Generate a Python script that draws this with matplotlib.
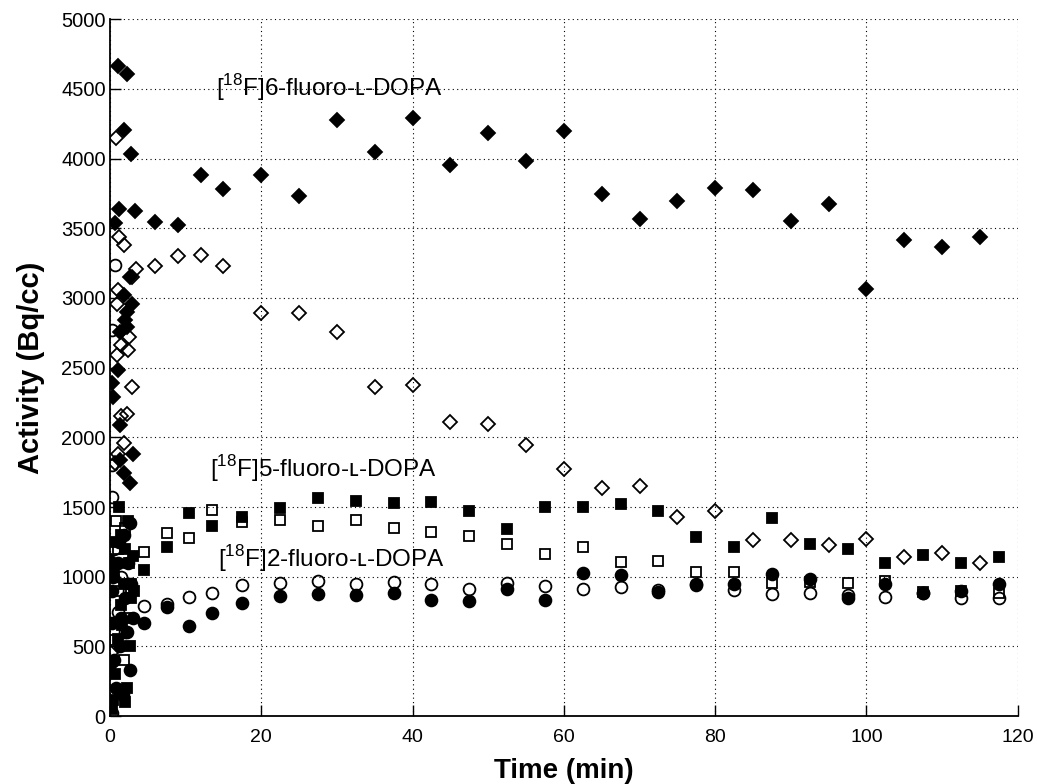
import numpy as np
import matplotlib
matplotlib.use("Agg")
import matplotlib.pyplot as plt

plt.rcParams['font.family'] = ['Liberation Sans', 'DejaVu Sans']
plt.rcParams['mathtext.fontset'] = 'custom'
plt.rcParams['mathtext.rm'] = 'Liberation Sans'

# ── Data ─────────────────────────────────────────────────────────────────────

# [18F]6-fluoro-L-DOPA, filled diamonds
fd_t = [0.15, 0.25, 0.3, 0.4, 0.66, 1.0, 1.1, 1.2, 1.3, 1.3, 1.3, 1.8, 1.8, 1.9,
        2.0, 2.2, 2.2, 2.3, 2.65, 2.65, 2.8, 2.9, 3.0, 3.3,
        6, 9, 12, 15, 20, 25, 30, 35, 40, 45, 50, 55, 60, 65, 70, 75,
        80, 85, 90, 95, 100, 105, 110, 115]
fd_y = [1110, 370, 2387, 2291, 3539, 4663, 2482, 3635, 2757, 2088, 1835, 3020, 1741, 4209,
        2840, 2900, 2793, 4605, 3151, 1669, 4032, 2960, 1880, 3625,
        3546, 3525, 3881, 3780, 3881, 3730, 4275, 4048, 4295, 3953, 4184, 3981, 4197,
        3745, 3565, 3694, 3788, 3773, 3551, 3673, 3063, 3415, 3364, 3436]

# [18F]6-fluoro-L-DOPA, open diamonds
od_t = [0.15, 0.66, 0.75, 0.9, 0.9, 1.0, 1.1, 1.2, 1.5, 1.5, 1.8, 1.8, 2.2, 2.4,
        2.5, 2.9, 2.9, 3.4,
        6, 9, 12, 15, 20, 25, 30, 35, 40, 45, 50, 55, 60, 65, 70, 75,
        80, 85, 90, 95, 100, 105, 110, 115]
od_y = [450, 1813, 4151, 2590, 2960, 1880, 3056, 3438, 2661, 2150, 3379, 1956, 2171, 2626,
        2720, 2362, 3151, 3211,
        3232, 3300, 3310, 3232, 2895, 2895, 2755, 2360, 2372, 2109, 2097, 1946, 1774,
        1636, 1650, 1425, 1468, 1263, 1263, 1224, 1272, 1143, 1172, 1100]

# [18F]5-fluoro-L-DOPA, filled squares
fs_t = [0.2, 0.4, 0.5, 0.6, 0.8, 1.0, 1.2, 1.4, 1.5, 1.6, 1.8, 2.0, 2.0, 2.2, 2.4,
        2.5, 2.6, 2.8, 3.0, 3.2,
        4.5, 7.5, 10.5, 13.5, 17.5, 22.5, 27.5, 32.5, 37.5, 42.5, 47.5, 52.5, 57.5,
        62.5, 67.5, 72.5, 77.5, 82.5, 87.5, 92.5, 97.5, 102.5, 107.5, 112.5, 117.5]
fs_y = [50, 115, 1050, 300, 1250, 550, 1501, 800, 1300, 650, 950, 103, 1200, 200, 1400,
        1100, 500, 850, 1150, 900,
        1047, 1216, 1459, 1366, 1431, 1495, 1566, 1545, 1526, 1533, 1473, 1340, 1497,
        1497, 1521, 1473, 1288, 1216, 1418, 1234, 1196, 1100, 1155, 1095, 1138]

# [18F]5-fluoro-L-DOPA, open squares
os_t = [0.3, 0.66, 0.8, 1.0, 1.5, 1.8, 2.0, 2.5, 2.8,
        4.5, 7.5, 10.5, 13.5, 17.5, 22.5, 27.5, 32.5, 37.5, 42.5, 47.5, 52.5, 57.5,
        62.5, 67.5, 72.5, 77.5, 82.5, 87.5, 92.5, 97.5, 102.5, 107.5, 112.5, 117.5]
os_y = [1000, 545, 1400, 1200, 900, 400, 1350, 700, 950,
        1174, 1311, 1278, 1478, 1390, 1407, 1364, 1407, 1347, 1322, 1291, 1234, 1162,
        1215, 1105, 1110, 1033, 1033, 952, 960, 956, 970, 890, 900, 880]

# [18F]2-fluoro-L-DOPA, filled circles
fc_t = [0.2, 0.3, 0.4, 0.5, 0.8, 1.0, 1.2, 1.3, 1.5, 1.7, 1.8, 2.0, 2.2, 2.4, 2.6,
        2.7, 2.8, 3.0,
        4.5, 7.5, 10.5, 13.5, 17.5, 22.5, 27.5, 32.5, 37.5, 42.5, 47.5, 52.5, 57.5,
        62.5, 67.5, 72.5, 77.5, 82.5, 87.5, 92.5, 97.5, 102.5, 107.5, 112.5, 117.5]
fc_y = [665, 900, 1000, 400, 200, 1100, 1250, 500, 700, 150, 1300, 850, 600, 1100, 330,
        1382, 950, 700,
        668, 782, 649, 737, 808, 861, 875, 866, 880, 832, 827, 909, 832,
        1024, 1014, 890, 938, 947, 1018, 980, 844, 947, 880, 894, 947]

# [18F]2-fluoro-L-DOPA, open circles
oc_t = [0.2, 0.2, 0.3, 0.3, 0.5, 0.66, 1.0, 1.5, 2.0, 2.5,
        4.5, 7.5, 10.5, 13.5, 17.5, 22.5, 27.5, 32.5, 37.5, 42.5, 47.5, 52.5, 57.5,
        62.5, 67.5, 72.5, 77.5, 82.5, 87.5, 92.5, 97.5, 102.5, 107.5, 112.5, 117.5]
oc_y = [19, 1800, 1573, 2769, 1200, 3235, 750, 1000, 600, 900,
        789, 806, 854, 880, 937, 954, 968, 944, 959, 947, 913, 956, 933,
        909, 923, 905, 950, 904, 875, 884, 870, 856, 885, 844, 844]

labels = ["[$^{\\mathregular{18}}$F]6-fluoro-\u029f-DOPA",
          "[$^{\\mathregular{18}}$F]5-fluoro-\u029f-DOPA",
          "[$^{\\mathregular{18}}$F]2-fluoro-\u029f-DOPA"]
label_xy = [(14.0, 4512), (13.2, 1779), (14.3, 1133)]

# ── Plot ─────────────────────────────────────────────────────────────────────

fig = plt.figure(figsize=(10.37, 7.84), dpi=100)
ax = fig.add_axes([0.1061, 0.0867, 0.8753, 0.8887])

mk = dict(linestyle="none", color="black", markeredgewidth=1.3)
ax.plot(os_t, os_y, marker="s", markersize=7, markerfacecolor="none", **mk)
ax.plot(oc_t, oc_y, marker="o", markersize=8.5, markerfacecolor="none", **mk)
ax.plot(od_t, od_y, marker="D", markersize=7, markerfacecolor="none", **mk)
ax.plot(fs_t, fs_y, marker="s", markersize=7, markerfacecolor="black", **mk)
ax.plot(fc_t, fc_y, marker="o", markersize=8.5, markerfacecolor="black", **mk)
ax.plot(fd_t, fd_y, marker="D", markersize=7, markerfacecolor="black", **mk)

for txt, (x, y) in zip(labels, label_xy):
    ax.text(x, y, txt, fontsize=17.5, va="center", ha="left",
            family=["Liberation Sans", "DejaVu Sans"])

ax.set_xlim(0, 120)
ax.set_ylim(0, 5000)
ax.set_xticks(np.arange(0, 121, 20))
ax.set_yticks(np.arange(0, 5001, 500))

ax.grid(True, color="black", linestyle=(0, (1, 3)), linewidth=0.8)
for s in ["top", "right"]:
    ax.spines[s].set_visible(False)
for s in ["left", "bottom"]:
    ax.spines[s].set_linewidth(1.3)

ax.tick_params(direction="in", length=8, width=1.0)
ax.tick_params(axis="y", labelsize=14.5, pad=3)
ax.tick_params(axis="x", labelsize=14, pad=9)

ax.set_xlabel("Time (min)", fontsize=20, fontweight="bold", labelpad=9)
ax.set_ylabel("Activity (Bq/cc)", fontsize=21, fontweight="bold", labelpad=12)

fig.savefig("out.png", dpi=100)
